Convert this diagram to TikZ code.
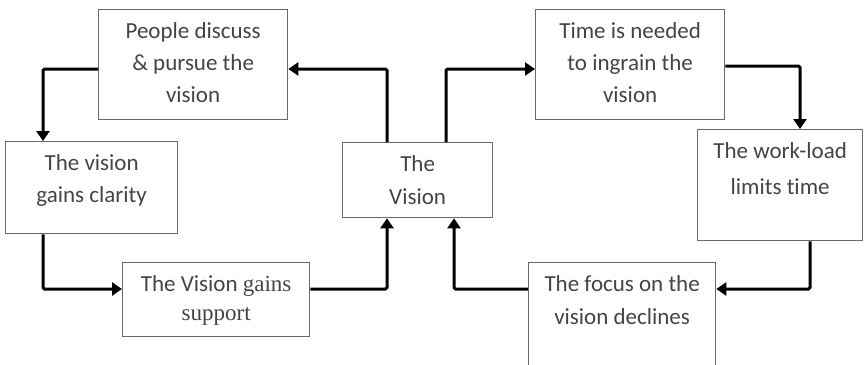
\documentclass[tikz,border=0pt]{standalone}
\usepackage{fontspec}
\setmainfont[Ligatures=NoCommon]{Carlito}
\newfontfamily\serifpart{Liberation Serif}
\usetikzlibrary{arrows.meta}

\definecolor{boxline}{HTML}{6A6A6A}
\definecolor{ink}{HTML}{444444}

% box content: [line spacing]{width}{height}{lines}, text hangs from the top
\newcommand\cardtext[4][32pt]{%
  \parbox[c][#3][t]{#2}{\centering\fontsize{23pt}{#1}\selectfont\rule{0pt}{29pt}#4}}

\tikzset{
  card/.style={draw=boxline, line width=1.3pt, inner sep=0pt, anchor=north west, text=ink},
  flow/.style={line width=3pt, rounded corners=1.5pt, -{Triangle[length=10pt,width=13pt]}},
}

\begin{document}
\begin{tikzpicture}[x=1pt, y=-1pt]
  \clip (0,0) rectangle (864,364);

  % boxes
  \node[card] (people)  at (98,9)    {\cardtext{189pt}{110pt}{People discuss\\\& pursue the\\vision}};
  \node[card] (time)    at (535,9)   {\cardtext{189pt}{110pt}{Time is needed\\to ingrain the\\vision}};
  \node[card] (clarity) at (5,141)   {\cardtext{172pt}{92pt}{The vision\\gains clarity}};
  \node[card] (vision)  at (342,142) {\cardtext[33pt]{150pt}{75pt}{The\\Vision}};
  \node[card] (worklo)  at (697,129) {\cardtext[36pt]{165pt}{111pt}{The work-load\\limits time}};
  \node[card] (support) at (122,262) {\cardtext[29pt]{187pt}{74pt}{The Vision {\serifpart gains}\\{\serifpart support}}};
  \node[card] (focus)   at (528,262) {\cardtext[33pt]{187pt}{110pt}{The focus on the\\vision declines}};

  % bend points of the connectors
  \coordinate (b1) at (43,69);
  \coordinate (b2) at (43,289);
  \coordinate (b3) at (387,289);
  \coordinate (b4) at (387,69);
  \coordinate (b5) at (446,69);
  \coordinate (b6) at (800,66);
  \coordinate (b7) at (810,289);
  \coordinate (b8) at (454,289);

  % connectors
  \draw[flow] (people.west |- b1) -- (b1) -- (b1 |- clarity.north);
  \draw[flow] (b2 |- clarity.south) -- (b2) -- (support.west |- b2);
  \draw[flow] (support.east |- b3) -- (b3) -- (b3 |- vision.south);
  \draw[flow] (b4 |- vision.north) -- (b4) -- (people.east |- b4);
  \draw[flow] (b5 |- vision.north) -- (b5) -- (time.west |- b5);
  \draw[flow] (time.east |- b6) -- (b6) -- (b6 |- worklo.north);
  \draw[flow] (b7 |- worklo.south) -- (b7) -- (focus.east |- b7);
  \draw[flow] (focus.west |- b8) -- (b8) -- (b8 |- vision.south);
\end{tikzpicture}
\end{document}
